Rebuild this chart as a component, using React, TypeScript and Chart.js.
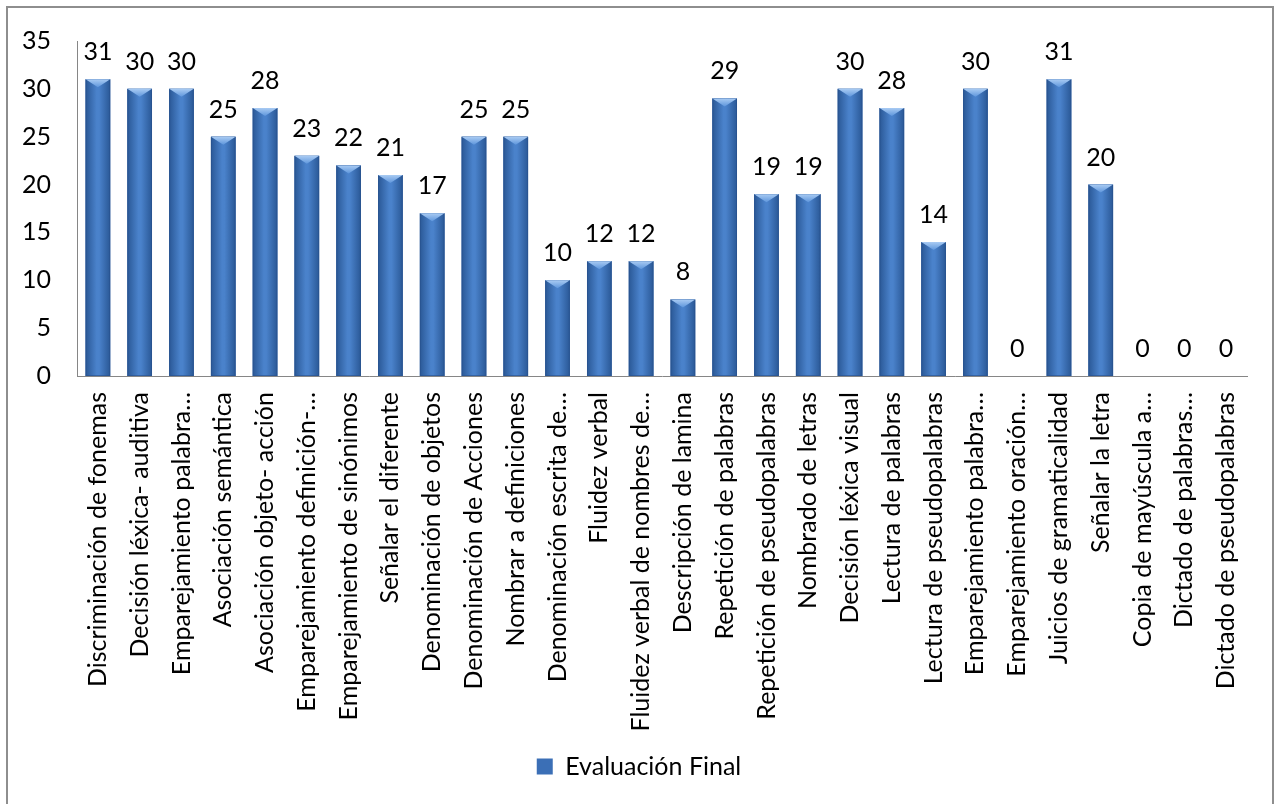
import React, { useEffect, useRef } from "react";
import { Chart, registerables } from "chart.js";

Chart.register(...registerables);

const categories: string[] = [
  "Discriminación de fonemas",
  "Decisión léxica- auditiva",
  "Emparejamiento palabra…",
  "Asociación semántica",
  "Asociación objeto- acción",
  "Emparejamiento definición-…",
  "Emparejamiento de sinónimos",
  "Señalar el diferente",
  "Denominación de objetos",
  "Denominación de Acciones",
  "Nombrar a definiciones",
  "Denominación escrita de…",
  "Fluidez verbal",
  "Fluidez verbal de nombres de…",
  "Descripción de lamina",
  "Repetición de palabras",
  "Repetición de pseudopalabras",
  "Nombrado de letras",
  "Decisión léxica visual",
  "Lectura de palabras",
  "Lectura de pseudopalabras",
  "Emparejamiento palabra…",
  "Emparejamiento oración…",
  "Juicios de gramaticalidad",
  "Señalar la letra",
  "Copia de mayúscula a…",
  "Dictado de palabras…",
  "Dictado de pseudopalabras",
];

const evaluacionFinal: number[] = [
  31, 30, 30, 25, 28, 23, 22, 21, 17, 25, 25, 10, 12, 12, 8, 29, 19, 19, 30, 28, 14, 30, 0, 31, 20, 0, 0, 0,
];

const seriesName = "Evaluación Final";
const yMin = 0;
const yMax = 35;
const yStep = 5;

const FONT = "Lato";
const FONT_SIZE = 25;

const frameAndBars = {
  id: "frameAndBars",
  beforeDraw(chart: any) {
    const ctx = chart.ctx;
    ctx.save();
    ctx.fillStyle = "#ffffff";
    ctx.fillRect(0, 0, chart.width, chart.height);
    ctx.strokeStyle = "#8e8e8e";
    ctx.lineWidth = 2;
    ctx.strokeRect(7, 7, chart.width - 14 + 2, chart.height + 10);
    ctx.restore();
  },
  afterDatasetsDraw(chart: any) {
    const ctx = chart.ctx;
    const meta = chart.getDatasetMeta(0);
    ctx.save();
    meta.data.forEach((el: any, i: number) => {
      const { x, y, base, width } = el.getProps(["x", "y", "base", "width"], true);
      const h = base - y;
      const left = x - width / 2;
      if (h > 0.5) {
        const g = ctx.createLinearGradient(left, 0, left + width, 0);
        g.addColorStop(0, "#2a5896");
        g.addColorStop(0.45, "#4a82cb");
        g.addColorStop(0.55, "#4a82cb");
        g.addColorStop(1, "#2a5896");
        ctx.fillStyle = g;
        ctx.fillRect(left, y, width, h);
        ctx.strokeStyle = "rgba(40,80,140,0.6)";
        ctx.lineWidth = 1;
        ctx.strokeRect(left + 0.5, y + 0.5, width - 1, h - 1);
        const bevel = Math.min(8, h);
        const tg = ctx.createLinearGradient(0, y, 0, y + bevel);
        tg.addColorStop(0, "#a9cbf3");
        tg.addColorStop(1, "#5e96dc");
        ctx.fillStyle = tg;
        ctx.beginPath();
        ctx.moveTo(left, y);
        ctx.lineTo(left + width, y);
        ctx.lineTo(x, y + bevel);
        ctx.closePath();
        ctx.fill();
      }
      ctx.fillStyle = "#000000";
      ctx.font = `${FONT_SIZE}px ${FONT}`;
      ctx.textAlign = "center";
      ctx.textBaseline = "alphabetic";
      ctx.fillText(String(evaluacionFinal[i]), x, y - 19);
    });
    ctx.restore();
  },
};

export default function App() {
  const ref = useRef<HTMLCanvasElement>(null);
  useEffect(() => {
    document.body.style.margin = "0";
    const chart = new Chart(ref.current!, {
      type: "bar",
      data: {
        labels: categories,
        datasets: [
          {
            label: seriesName,
            data: evaluacionFinal,
            backgroundColor: "#3b6fb6",
            borderWidth: 0,
            barPercentage: 0.59,
            categoryPercentage: 1,
          },
        ],
      },
      options: {
        responsive: false,
        animation: false,
        devicePixelRatio: 1,
        layout: { padding: { left: 0, right: 0, top: 37, bottom: 15 } },
        plugins: {
          tooltip: { enabled: false },
          legend: {
            position: "bottom",
            labels: {
              color: "#000000",
              font: { family: FONT, size: FONT_SIZE },
              boxWidth: 16,
              boxHeight: 16,
              padding: 10,
            },
          },
        },
        scales: {
          x: {
            grid: { display: false, drawTicks: false },
            border: { display: true, color: "#868686", width: 1 },
            ticks: {
              color: "#000000",
              font: { family: FONT, size: FONT_SIZE },
              minRotation: 90,
              maxRotation: 90,
              autoSkip: false,
              padding: 16,
            },
            afterFit: (s: any) => {
              s.height = 368;
            },
          },
          y: {
            min: yMin,
            max: yMax,
            grid: { display: false, drawTicks: false },
            border: { display: true, color: "#868686", width: 1 },
            ticks: {
              stepSize: yStep,
              color: "#000000",
              font: { family: FONT, size: FONT_SIZE },
              padding: 26,
            },
            afterFit: (s: any) => {
              s.width = 77;
            },
          },
          spacer: {
            type: "linear",
            position: "right",
            display: true,
            grid: { display: false, drawTicks: false },
            border: { display: false },
            ticks: { display: false },
            afterFit: (s: any) => {
              s.width = 31;
            },
          },
        },
      },
      plugins: [frameAndBars],
    });
    return () => chart.destroy();
  }, []);
  return (
    <div style={{ position: "absolute", left: 0, top: 0, width: 1278, height: 804, background: "#fff" }}>
      <canvas ref={ref} width={1278} height={804} style={{ display: "block" }} />
    </div>
  );
}
